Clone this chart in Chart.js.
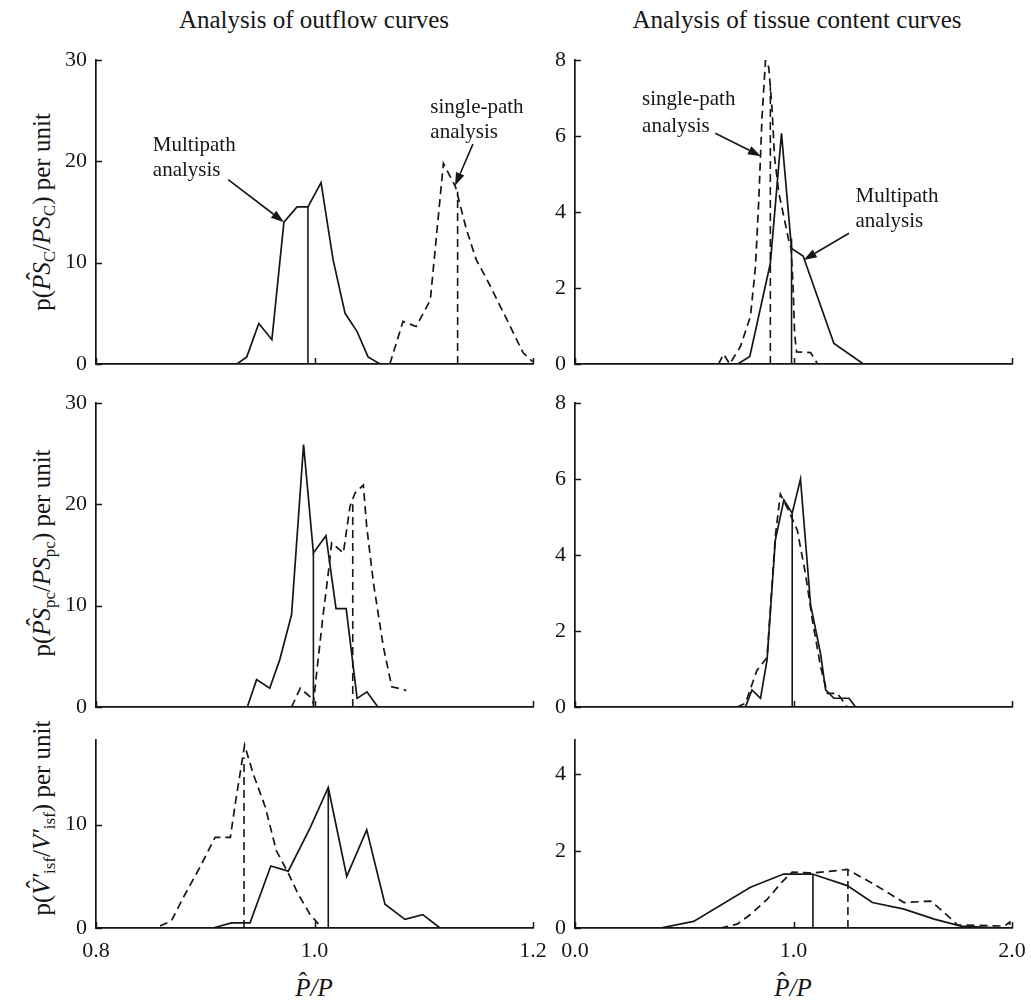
<!DOCTYPE html>
<html lang="en">
<head>
<meta charset="UTF-8">
<title>Distributions of estimated P̂/P</title>
<script src="https://cdn.jsdelivr.net/npm/chart.js@4.4.1/dist/chart.umd.min.js"></script>
<style>
  body { margin: 0; background: #fff; }
  #page {
    position: relative; width: 1031px; height: 1003px; overflow: hidden;
    font-family: 'Liberation Serif', 'Times New Roman', serif; color: #161616; background: #fff;
  }
  canvas.panel { position: absolute; }
  .title { position: absolute; top: 6px; font-size: 25px; white-space: nowrap; transform: translateX(-50%); }
  .ytitle { position: absolute; font-size: 25px; white-space: nowrap; transform: translate(-50%, -50%) rotate(-90deg); }
  .xtitle { position: absolute; font-size: 25px; white-space: nowrap; transform: translate(-50%, -50%); }
  .hat { position: relative; display: inline-block; }
  .hat .caret { position: absolute; left: 0; right: 0; top: -0.24em; text-align: center; font-style: normal; }
  sub { font-size: 0.68em; vertical-align: -0.3em; line-height: 0; }
</style>
</head>
<body>
<div id="page">
  <div class="title" style="left:314px">Analysis of outflow curves</div>
  <div class="title" style="left:797px">Analysis of tissue content curves</div>

  <div class="ytitle" style="left:42px; top:212px">p(<span class="hat"><i>PS</i><span class="caret">ˆ</span></span><sub>C</sub>/<i>PS</i><sub>C</sub>) per unit</div>
  <div class="ytitle" style="left:42px; top:553px">p(<span class="hat"><i>PS</i><span class="caret">ˆ</span></span><sub>pc</sub>/<i>PS</i><sub>pc</sub>) per unit</div>
  <div class="ytitle" style="left:42px; top:818px">p(<span class="hat"><i>V′</i><span class="caret">ˆ</span></span><sub>isf</sub>/<i>V′</i><sub>isf</sub>) per unit</div>

  <div class="xtitle" style="left:314px; top:988px"><span class="hat"><i>P</i><span class="caret">ˆ</span></span><i>/P</i></div>
  <div class="xtitle" style="left:793px; top:988px"><span class="hat"><i>P</i><span class="caret">ˆ</span></span><i>/P</i></div>
</div>

<script>
const FONT = "'Liberation Serif', 'Times New Roman', serif";
const INK = '#161616';

// axis ticks
const outflowTicks = [0.8, 1.0, 1.2];
const tissueTicks = [0.0, 1.0, 2.0];
const psOutflowTicks = [0, 10, 20, 30];
const psTissueTicks = [0, 2, 4, 6, 8];
const visfOutflowTicks = [0, 10];
const visfTissueTicks = [0, 2, 4];

// PS_C, outflow curves
const psCOutMultiX = [0.929, 0.938, 0.949, 0.961, 0.972, 0.984, 0.994, 1.006, 1.017, 1.028, 1.039, 1.049, 1.060];
const psCOutMultiY = [0, 0.7, 4.0, 2.4, 14.0, 15.5, 15.5, 17.9, 10.3, 5.0, 3.2, 0.7, 0];
const psCOutSingleX = [1.069, 1.081, 1.093, 1.106, 1.118, 1.129, 1.139, 1.148, 1.158, 1.176, 1.191, 1.200];
const psCOutSingleY = [0, 4.2, 3.7, 6.3, 19.8, 17.5, 13.3, 10.3, 8.3, 4.4, 1.1, 0.2];
const psCOutMeans = [0.994, 1.131];
const psCOutMeanTops = [15.5, 17.0];

// PS_C, tissue content curves
const psCTisMultiX = [0.745, 0.800, 0.894, 0.945, 0.991, 1.044, 1.185, 1.320];
const psCTisMultiY = [0, 0.2, 2.65, 6.07, 3.04, 2.84, 0.54, 0];
const psCTisSingleX = [0.657, 0.680, 0.708, 0.757, 0.803, 0.826, 0.841, 0.856, 0.872, 0.887, 0.902, 0.913, 0.933, 0.955, 0.978, 0.989, 0.998, 1.005, 1.014, 1.078, 1.100, 1.110];
const psCTisSingleY = [0, 0.26, 0, 0.46, 1.25, 2.56, 4.3, 6.5, 8.0, 7.8, 6.7, 5.46, 4.5, 3.9, 3.26, 3.04, 2.03, 0.8, 0.32, 0.3, 0.1, 0];
const psCTisMeans = [0.991, 0.894];
const psCTisMeanTops = [3.3, 7.3];

// PS_pc, outflow curves
const psPcOutMultiX = [0.9385, 0.947, 0.959, 0.968, 0.979, 0.990, 0.999, 1.0105, 1.0197, 1.029, 1.039, 1.048, 1.058];
const psPcOutMultiY = [0, 2.7, 1.85, 4.6, 9.1, 25.9, 15.2, 16.9, 9.7, 9.7, 0.85, 1.5, 0];
const psPcOutSingleX = [0.979, 0.987, 0.996, 0.999, 1.0026, 1.008, 1.0126, 1.0157, 1.0264, 1.0325, 1.037, 1.0447, 1.0478, 1.054, 1.063, 1.0707, 1.081, 1.084];
const psPcOutSingleY = [0, 1.85, 1.0, 0.36, 4.0, 9.2, 13.2, 16.2, 15.2, 19.8, 21.1, 21.9, 17.8, 12.2, 5.95, 2.0, 1.75, 1.6];
const psPcOutMeans = [0.999, 1.035];
const psPcOutMeanTops = [15.2, 20.0];

// PS_pc, tissue content curves
const psPcTisMultiX = [0.780, 0.810, 0.849, 0.879, 0.917, 0.956, 0.994, 1.032, 1.060, 1.078, 1.124, 1.147, 1.185, 1.254, 1.284];
const psPcTisMultiY = [0, 0.45, 0.23, 1.24, 4.4, 5.45, 5.1, 6.0, 4.0, 2.7, 1.4, 0.45, 0.23, 0.23, 0];
const psPcTisSingleX = [0.742, 0.780, 0.833, 0.879, 0.917, 0.940, 0.975, 1.017, 1.055, 1.086, 1.124, 1.155, 1.200, 1.246];
const psPcTisSingleY = [0, 0.1, 0.97, 1.3, 4.5, 5.6, 5.2, 4.66, 3.5, 2.3, 1.06, 0.36, 0.36, 0];
const psPcTisMeans = [0.994];
const psPcTisMeanTops = [5.1];

// V'_isf, outflow curves
const visfOutMultiX = [0.907, 0.924, 0.941, 0.960, 0.976, 0.996, 1.0126, 1.0295, 1.0478, 1.0645, 1.0828, 1.099, 1.115];
const visfOutMultiY = [0, 0.5, 0.5, 6.0, 5.5, 9.7, 13.6, 5.0, 9.5, 2.3, 0.84, 1.3, 0];
const visfOutSingleX = [0.8586, 0.869, 0.880, 0.895, 0.909, 0.923, 0.927, 0.936, 0.944, 0.955, 0.965, 0.976, 0.985, 0.996, 1.0035];
const visfOutSingleY = [0.2, 0.68, 2.97, 5.86, 8.77, 8.77, 11.7, 17.7, 14.9, 11.7, 7.5, 5.3, 3.3, 1.3, 0.4];
const visfOutMeans = [1.0126, 0.9355];
const visfOutMeanTops = [13.6, 16.5];

// V'_isf, tissue content curves
const visfTisMultiX = [0.39, 0.543, 0.803, 0.955, 1.086, 1.246, 1.361, 1.506, 1.644, 1.766, 1.95];
const visfTisMultiY = [0, 0.17, 1.06, 1.4, 1.4, 1.1, 0.66, 0.49, 0.23, 0.05, 0];
const visfTisSingleX = [0.665, 0.742, 0.803, 0.879, 0.948, 0.994, 1.093, 1.246, 1.368, 1.506, 1.628, 1.69, 1.75, 1.965, 1.99, 1.99];
const visfTisSingleY = [0, 0.1, 0.35, 0.74, 1.2, 1.45, 1.43, 1.52, 1.14, 0.66, 0.7, 0.4, 0.08, 0.05, 0.15, 0];
const visfTisMeans = [1.089, 1.249];
const visfTisMeanTops = [1.4, 1.5];

// labelled arrows, in data units
const psCOutNotes = [
  { lines: ['Multipath', 'analysis'], at: [0.852, 21.6], gap: 2.5, from: [0.921, 18.2], to: [0.972, 14.0] },
  { lines: ['single-path', 'analysis'], at: [1.106, 25.3], gap: 2.45, from: [1.145, 21.7], to: [1.1286, 17.6] }
];
const psCTisNotes = [
  { lines: ['single-path', 'analysis'], at: [0.307, 6.95], gap: 0.7, from: [0.642, 6.07], to: [0.851, 5.47] },
  { lines: ['Multipath', 'analysis'], at: [1.284, 4.40], gap: 0.66, from: [1.254, 3.44], to: [1.047, 2.74] }
];

const page = document.getElementById('page');

function series(xs, ys, dashed) {
  return {
    data: xs.map((x, i) => ({ x, y: ys[i] })),
    borderColor: INK, borderWidth: 1.7, borderDash: dashed ? [8, 5] : [],
    pointRadius: 0, fill: false, tension: 0
  };
}

function meanLines(xs, tops, dashes) {
  return xs.map((x, i) => ({
    data: [{ x, y: 0 }, { x, y: tops[i] }],
    borderColor: INK, borderWidth: 1.6, borderDash: dashes[i] ? [8, 5] : [],
    pointRadius: 0, fill: false
  }));
}

// small inward ticks and the arrow notes
const decor = {
  id: 'decor',
  afterDraw(chart, args, opts) {
    const { ctx, chartArea: a, scales: { x, y } } = chart;
    ctx.save();
    ctx.strokeStyle = INK;
    ctx.lineWidth = 1.5;
    ctx.beginPath();
    opts.xTicks.forEach(v => {
      const px = Math.round(x.getPixelForValue(v)) + 0.5;
      ctx.moveTo(px, a.bottom); ctx.lineTo(px, a.bottom - 6);
    });
    opts.yTicks.forEach(v => {
      const py = Math.round(y.getPixelForValue(v)) + 0.5;
      ctx.moveTo(a.left, py); ctx.lineTo(a.left + 6, py);
    });
    ctx.stroke();

    ctx.fillStyle = INK;
    ctx.font = '21px ' + FONT;
    ctx.textBaseline = 'middle';
    (opts.notes || []).forEach(n => {
      n.lines.forEach((t, i) => {
        ctx.fillText(t, x.getPixelForValue(n.at[0]), y.getPixelForValue(n.at[1] - i * n.gap));
      });
      const x0 = x.getPixelForValue(n.from[0]), y0 = y.getPixelForValue(n.from[1]);
      const x1 = x.getPixelForValue(n.to[0]), y1 = y.getPixelForValue(n.to[1]);
      const ang = Math.atan2(y1 - y0, x1 - x0);
      const len = 13, half = 4.5;
      const bx = x1 - len * Math.cos(ang), by = y1 - len * Math.sin(ang);
      ctx.lineWidth = 1.6;
      ctx.beginPath();
      ctx.moveTo(x0, y0); ctx.lineTo(bx, by);
      ctx.stroke();
      ctx.beginPath();
      ctx.moveTo(x1, y1);
      ctx.lineTo(bx + half * Math.sin(ang), by - half * Math.cos(ang));
      ctx.lineTo(bx - half * Math.sin(ang), by + half * Math.cos(ang));
      ctx.closePath();
      ctx.fill();
    });
    ctx.restore();
  }
};

function zeroPad(s) { s.paddingTop = 0; s.paddingBottom = 0; s.paddingLeft = 0; s.paddingRight = 0; }

function makePanel(p) {
  const padL = 70, padT = 16, padR = 24, axisH = 56;
  const [l, t, r, b] = p.box;
  const w = (r - l) + padL + padR;
  const h = (b - t) + padT + axisH;
  const canvas = document.createElement('canvas');
  canvas.className = 'panel';
  canvas.width = w; canvas.height = h;
  canvas.style.width = w + 'px'; canvas.style.height = h + 'px';
  canvas.style.left = (l - padL) + 'px';
  canvas.style.top = (t - padT) + 'px';
  page.appendChild(canvas);

  const tickFont = { family: FONT, size: 22 };
  new Chart(canvas, {
    type: 'line',
    data: { datasets: p.datasets },
    options: {
      responsive: false, animation: false, devicePixelRatio: 1,
      layout: { padding: { top: padT, right: padR, left: 0, bottom: 0 } },
      plugins: { legend: { display: false }, tooltip: { enabled: false }, decor: { xTicks: p.xTicks, yTicks: p.yTicks, notes: p.notes } },
      scales: {
        x: {
          type: 'linear', min: p.xr[0], max: p.xr[1],
          border: { display: true, color: INK, width: 1.7 },
          grid: { display: false, drawTicks: false },
          ticks: { display: p.xLabels, font: tickFont, color: INK, padding: 10, maxRotation: 0, autoSkip: false,
                   callback: v => v.toFixed(1) },
          afterBuildTicks: s => { s.ticks = p.xTicks.map(v => ({ value: v })); },
          afterFit: s => { s.height = axisH; zeroPad(s); }
        },
        y: {
          type: 'linear', min: p.yr[0], max: p.yr[1],
          border: { display: true, color: INK, width: 1.7 },
          grid: { display: false, drawTicks: false },
          ticks: { font: tickFont, color: INK, padding: 9, autoSkip: false, callback: v => String(v) },
          afterBuildTicks: s => { s.ticks = p.yTicks.map(v => ({ value: v })); },
          afterFit: s => { s.width = padL; zeroPad(s); }
        }
      }
    },
    plugins: [decor]
  });
}

const panels = [
  { box: [96, 60, 533, 364], xr: [0.8, 1.2], yr: [0, 30], xTicks: outflowTicks, yTicks: psOutflowTicks, xLabels: false,
    datasets: [series(psCOutMultiX, psCOutMultiY, false), series(psCOutSingleX, psCOutSingleY, true),
               ...meanLines(psCOutMeans, psCOutMeanTops, [false, true])],
    notes: psCOutNotes },
  { box: [575, 60, 1012, 364], xr: [0, 2], yr: [0, 8], xTicks: tissueTicks, yTicks: psTissueTicks, xLabels: false,
    datasets: [series(psCTisMultiX, psCTisMultiY, false), series(psCTisSingleX, psCTisSingleY, true),
               ...meanLines(psCTisMeans, psCTisMeanTops, [false, true])],
    notes: psCTisNotes },
  { box: [96, 403, 533, 707], xr: [0.8, 1.2], yr: [0, 30], xTicks: outflowTicks, yTicks: psOutflowTicks, xLabels: false,
    datasets: [series(psPcOutMultiX, psPcOutMultiY, false), series(psPcOutSingleX, psPcOutSingleY, true),
               ...meanLines(psPcOutMeans, psPcOutMeanTops, [false, true])] },
  { box: [575, 403, 1012, 707], xr: [0, 2], yr: [0, 8], xTicks: tissueTicks, yTicks: psTissueTicks, xLabels: false,
    datasets: [series(psPcTisMultiX, psPcTisMultiY, false), series(psPcTisSingleX, psPcTisSingleY, true),
               ...meanLines(psPcTisMeans, psPcTisMeanTops, [false])] },
  { box: [96, 740, 533, 928], xr: [0.8, 1.2], yr: [0, 18.2], xTicks: outflowTicks, yTicks: visfOutflowTicks, xLabels: true,
    datasets: [series(visfOutMultiX, visfOutMultiY, false), series(visfOutSingleX, visfOutSingleY, true),
               ...meanLines(visfOutMeans, visfOutMeanTops, [false, true])] },
  { box: [575, 740, 1012, 928], xr: [0, 2], yr: [0, 4.88], xTicks: tissueTicks, yTicks: visfTissueTicks, xLabels: true,
    datasets: [series(visfTisMultiX, visfTisMultiY, false), series(visfTisSingleX, visfTisSingleY, true),
               ...meanLines(visfTisMeans, visfTisMeanTops, [false, true])] }
];

panels.forEach(makePanel);
</script>
</body>
</html>
